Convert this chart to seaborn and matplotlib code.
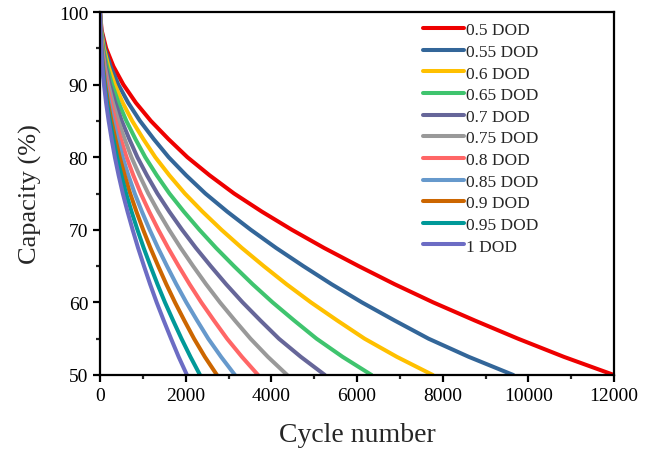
import pandas as pd
import matplotlib
matplotlib.use("Agg")
import matplotlib.pyplot as plt
import seaborn as sns
from matplotlib.ticker import MultipleLocator

# capacity levels (%) and the cycle number where each curve reaches them
capacity = [100, 97.5, 95, 92.5, 90, 87.5, 85, 82.5, 80, 77.5, 75,
            72.5, 70, 67.5, 65, 62.5, 60, 57.5, 55, 52.5, 50]

dod_labels = ["0.5 DOD", "0.55 DOD", "0.6 DOD", "0.65 DOD", "0.7 DOD", "0.75 DOD",
              "0.8 DOD", "0.85 DOD", "0.9 DOD", "0.95 DOD", "1 DOD"]

cycles_050 = [0, 38, 144, 314, 545, 837, 1187, 1597, 2040, 2560, 3130,
              3780, 4480, 5232, 6039, 6880, 7780, 8753, 9760, 10830, 12000]
cycles_055 = [0, 30, 113, 247, 428, 658, 933, 1255, 1603, 2012, 2460,
              2971, 3521, 4112, 4747, 5408, 6115, 6880, 7671, 8610, 9650]
cycles_060 = [0, 24, 91, 199, 345, 530, 751, 1011, 1291, 1620, 1981,
              2393, 2836, 3312, 3823, 4355, 4925, 5541, 6178, 6931, 7770]
cycles_065 = [0, 20, 75, 163, 282, 434, 615, 827, 1057, 1326, 1621,
              1958, 2321, 2710, 3128, 3564, 4030, 4534, 5056, 5664, 6340]
cycles_070 = [0, 16, 62, 134, 233, 358, 508, 684, 873, 1096, 1340,
              1618, 1917, 2239, 2585, 2945, 3330, 3746, 4177, 4689, 5250]
cycles_075 = [0, 14, 52, 113, 196, 301, 427, 575, 734, 922, 1127,
              1361, 1613, 1884, 2174, 2477, 2801, 3151, 3514, 3920, 4370]
cycles_080 = [0, 12, 44, 95, 166, 254, 361, 485, 620, 778, 952,
              1149, 1362, 1591, 1836, 2092, 2365, 2661, 2967, 3314, 3690]
cycles_085 = [0, 10, 37, 81, 141, 217, 307, 414, 528, 663, 811,
              979, 1160, 1355, 1564, 1782, 2015, 2267, 2528, 2827, 3150]
cycles_090 = [0, 9, 32, 71, 123, 188, 267, 359, 459, 576, 704,
              851, 1008, 1177, 1359, 1548, 1751, 1969, 2196, 2448, 2730]
cycles_095 = [0, 7, 28, 61, 106, 163, 231, 311, 398, 499, 610,
              737, 874, 1020, 1178, 1342, 1517, 1707, 1903, 2112, 2335]
cycles_100 = [0, 6, 24, 53, 93, 142, 202, 271, 347, 435, 532,
              643, 762, 889, 1027, 1170, 1323, 1488, 1659, 1836, 2030]

all_cycles = [cycles_050, cycles_055, cycles_060, cycles_065, cycles_070, cycles_075,
              cycles_080, cycles_085, cycles_090, cycles_095, cycles_100]

colors = ["#EE0000", "#336699", "#FFC000", "#3FC46E", "#666699", "#999999",
          "#FF6666", "#6699CC", "#CC6600", "#009999", "#6C6CC4"]

rows = []
for label, cyc in zip(dod_labels, all_cycles):
    for c, cap in zip(cyc, capacity):
        rows.append({"dod": label, "cycle": c, "capacity": cap})
df = pd.DataFrame(rows)

sns.set_style("ticks")
plt.rcParams["font.family"] = ["Liberation Serif", "DejaVu Serif"]
plt.rcParams["axes.linewidth"] = 1.6

fig = plt.figure(figsize=(6.6, 4.52), dpi=100)
ax = fig.add_axes([100 / 660, 76 / 452, 514 / 660, 363 / 452])

sns.lineplot(data=df, x="cycle", y="capacity", hue="dod", hue_order=dod_labels,
             palette=colors, lw=2.9, errorbar=None, ax=ax)

ax.set_xlim(0, 12000)
ax.set_ylim(50, 100)
ax.xaxis.set_major_locator(MultipleLocator(2000))
ax.xaxis.set_minor_locator(MultipleLocator(1000))
ax.yaxis.set_major_locator(MultipleLocator(10))
ax.yaxis.set_minor_locator(MultipleLocator(5))
ax.tick_params(which="major", direction="out", length=5, width=1.6, labelsize=14,
               colors="black")
ax.tick_params(which="minor", direction="out", length=3, width=1.6)
for s in ax.spines.values():
    s.set_visible(True)
    s.set_color("black")

ax.set_xlabel("Cycle number", fontsize=20, labelpad=13)
ax.set_ylabel("Capacity (%)", fontsize=19, labelpad=12)

handles, labels = ax.get_legend_handles_labels()
ax.legend(handles, labels, loc="upper left", bbox_to_anchor=(0.628, 0.972),
          frameon=False, fontsize=12.5, handlelength=2.4, handletextpad=0.1,
          labelspacing=0.315, borderpad=0, borderaxespad=0)

fig.savefig("out.png", dpi=100)
